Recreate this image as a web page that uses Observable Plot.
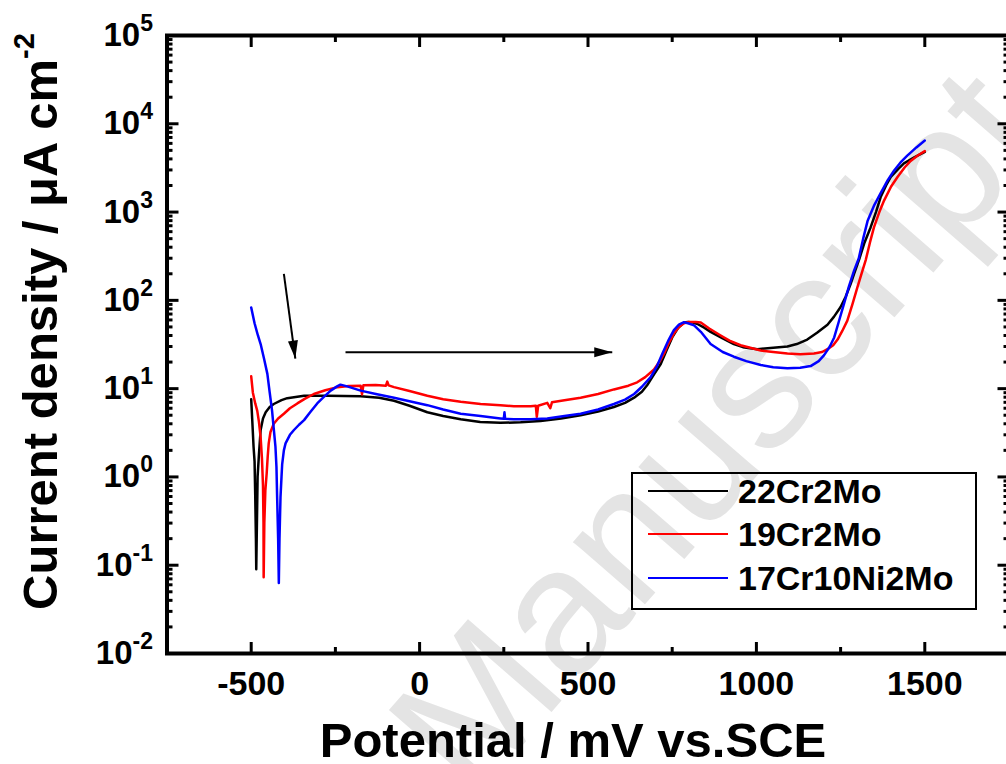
<!DOCTYPE html>
<html>
<head>
<meta charset="utf-8">
<script src="https://cdn.jsdelivr.net/npm/d3@7"></script>
<script src="https://cdn.jsdelivr.net/npm/@observablehq/plot@0.6"></script>
<style>
  html, body { margin: 0; padding: 0; background: #fff; }
  #wrap { position: relative; width: 1006px; height: 764px; overflow: hidden; }
  .legend { position: absolute; box-sizing: border-box; border: 2px solid #000; background: transparent;
            font-family: "Liberation Sans", Arial, sans-serif; font-weight: bold; font-size: 34px; color: #000; }
  .legend .row { position: absolute; left: 0; right: 0; height: 0; }
  .legend .swatch { position: absolute; height: 2.5px; margin-top: -1.25px; }
  .legend .lab { position: absolute; top: 0; line-height: 1; transform: translateY(-0.5em); white-space: nowrap; }
</style>
</head>
<body>
<div id="wrap"></div>
<script>
// ---------------- data ----------------
const seriesNames = ["22Cr2Mo", "19Cr2Mo", "17Cr10Ni2Mo"];
const seriesColors = ["#000000", "#ff0000", "#0000ff"];

// [potential mV vs SCE, current density µA cm^-2]
const curve22Cr2Mo = [
  [-500,7.6],[-497,4.5],[-493,2.2],[-490,1.5],[-488,0.6],[-486,0.2],[-485,0.09],[-483,0.3],[-481,1.0],
  [-477,1.8],[-472,3.4],[-465,4.6],[-457,5.4],[-445,6.2],[-433,6.7],[-410,7.4],[-393,7.8],[-343,8.3],
  [-274,8.3],[-175,8.2],[-120,7.9],[-76,7.3],[-30,6.4],[23,5.4],[70,4.9],[122,4.5],[180,4.2],[240,4.1],
  [300,4.15],[359,4.3],[420,4.6],[478,5.0],[530,5.5],[577,6.2],[610,6.9],[637,7.9],[660,9.2],[676,11],
  [696,14.5],[716,19],[733,27],[750,38],[768,49],[785,56],[797,57],[812,56],[825,54],[845,49],[864,44],
  [900,37],[933,32],[960,29.5],[1003,28],[1050,29],[1092,30],[1120,32],[1151,36],[1180,43],[1211,53],
  [1230,65],[1250,84],[1265,110],[1280,154],[1290,200],[1305,290],[1320,440],[1339,670],[1355,1000],
  [1369,1480],[1385,2000],[1399,2500],[1420,3050],[1438,3560],[1470,4200],[1500,4800]
];
const curve19Cr2Mo = [
  [-500,13.8],[-495,9],[-488,6.8],[-482,5.6],[-477,4.2],[-472,2.8],[-468,1.6],[-465,0.8],[-463.5,0.3],
  [-463,0.073],[-461,0.3],[-458,0.7],[-454,1.1],[-451,1.7],[-448,2.4],[-443,3.2],[-433,4.0],[-420,4.6],
  [-403,5.2],[-385,6.0],[-363,6.8],[-340,7.7],[-314,8.7],[-280,9.6],[-244,10.4],[-210,10.7],[-175,10.8],
  [-171,8.6],[-167,10.9],[-130,11.0],[-100,10.8],[-96,12.0],[-92,10.9],[-76,10.4],[-30,9.4],[23,8.3],
  [70,7.6],[122,7.1],[181,6.7],[240,6.5],[280,6.3],[330,6.3],[345,6.4],[348,4.8],[352,6.4],[379,6.9],
  [388,6.0],[393,7.0],[430,7.4],[478,7.9],[530,8.7],[577,9.8],[620,10.8],[646,11.8],[670,13.5],[696,16.5],
  [715,21],[726,25],[740,33],[755,42],[770,50],[785,55],[800,57],[820,57],[835,56],[860,48],[894,40],
  [920,35],[953,31],[1013,27],[1050,26],[1092,25],[1130,24.5],[1171,25],[1195,26],[1211,28],[1228,31],
  [1241,36],[1255,45],[1270,59],[1285,90],[1300,141],[1312,200],[1325,290],[1337,450],[1349,670],
  [1365,1000],[1379,1350],[1400,1950],[1419,2500],[1440,3200],[1458,3800],[1480,4400],[1500,4900]
];
const curve17Cr10Ni2Mo = [
  [-500,83],[-490,55],[-480,40],[-472,32],[-462,22],[-452,14.7],[-445,9],[-438,5.6],[-433,3.5],
  [-428,2.2],[-425,1.3],[-423,0.59],[-420,0.2],[-418,0.063],[-416,0.2],[-413,0.59],[-410,1.0],[-408,1.4],
  [-403,2.0],[-398,2.4],[-385,3.0],[-373,3.4],[-358,3.9],[-343,4.4],[-325,5.4],[-304,6.8],[-285,8.0],
  [-264,9.5],[-245,10.6],[-235,11.1],[-215,10.6],[-175,9.5],[-130,8.7],[-76,7.9],[-30,7.2],[23,6.5],
  [70,5.8],[122,5.2],[181,4.9],[240,4.6],[250,4.55],[252,5.4],[254,4.55],[280,4.5],[330,4.5],[379,4.6],
  [430,4.9],[478,5.2],[530,5.8],[577,6.7],[610,7.5],[637,8.7],[660,10.5],[686,13.5],[705,18],[721,25],
  [740,36],[755,46],[770,53],[785,56.5],[797,55],[815,52],[835,44],[864,32],[900,26],[933,23],[970,20.5],
  [1013,18.5],[1050,17.5],[1092,17],[1130,17.2],[1161,18],[1185,20.5],[1201,24],[1218,30],[1231,38],
  [1245,58],[1260,91],[1275,145],[1290,217],[1304,300],[1317,500],[1330,790],[1350,1200],[1369,1640],
  [1390,2300],[1409,2960],[1428,3650],[1448,4360],[1475,5400],[1500,6460]
];
const curves = [curve22Cr2Mo, curve19Cr2Mo, curve17Cr10Ni2Mo];

// scan-direction arrows (data coordinates: mV, µA cm^-2)
const arrowsData = [
  {x1: -403, y1: 200, x2: -369, y2: 21.9},
  {x1: -220, y1: 25.8, x2: 572, y2: 25.8}
];

const xMajorTicks = [-500, 0, 500, 1000, 1500];
const xMinorTicks = [-250, 250, 750, 1250];
const yMajorTicks = [1e-2, 1e-1, 1e0, 1e1, 1e2, 1e3, 1e4, 1e5];
const yMinorTicks = [];
for (let e = -2; e < 5; e++) for (let k = 2; k <= 9; k++) yMinorTicks.push(k * Math.pow(10, e));

const xTitle = "Potential / mV vs.SCE";
const yTitle = "Current density / μA cm-2";
const watermark = "Manuscript";

// ---------------- layout ----------------
const W = 1006, H = 764;
const mTop = 35, mBottom = 111, mLeft = 166.5, mRight = -2.5;
const xScaleOpts = {domain: [-750, 1750], range: [mLeft, W - mRight]};
const yScaleOpts = {type: "log", domain: [1e-2, 1e5], range: [H - mBottom, mTop]};

const rows = [];
curves.forEach((c, i) => c.forEach(([E, I]) => rows.push({E, I, series: seriesNames[i]})));

// arrow head angle from screen geometry
const sx = Plot.scale({x: xScaleOpts});
const sy = Plot.scale({y: yScaleOpts});
arrowsData.forEach(a => {
  const dx = sx.apply(a.x2) - sx.apply(a.x1);
  const dy = sy.apply(a.y2) - sy.apply(a.y1);
  a.angle = Math.atan2(dx, -dy) * 180 / Math.PI;
});
const arrowHead = {
  draw(ctx) { ctx.moveTo(0, 0); ctx.lineTo(-5, 18); ctx.lineTo(5, 18); ctx.closePath(); }
};

const tickLine = {strokeWidth: 3, fill: "none", label: null};

const chart = Plot.plot({
  width: W, height: H,
  marginTop: mTop, marginBottom: mBottom, marginLeft: mLeft, marginRight: mRight,
  x: {...xScaleOpts, axis: null},
  y: {...yScaleOpts, axis: null},
  color: {domain: seriesNames, range: seriesColors},
  style: {fontFamily: "'Liberation Sans', Arial, sans-serif", background: "#fff", color: "#000"},
  marks: [
    Plot.text([watermark], {frameAnchor: "middle", textAnchor: "middle", lineAnchor: "middle",
      dx: 130, dy: 88, rotate: -49, fontSize: 180, fill: "#e4e4e4", text: d => d}),
    Plot.line(rows, {x: "E", y: "I", z: "series", stroke: "series", strokeWidth: 2.5}),
    Plot.link(arrowsData, {x1: "x1", y1: "y1", x2: "x2", y2: "y2", stroke: "#000", strokeWidth: 2}),
    Plot.dot(arrowsData, {x: "x2", y: "y2", symbol: arrowHead, rotate: "angle", fill: "#000", stroke: "none"}),
    Plot.frame({stroke: "#000", strokeWidth: 4}),
    // inward ticks
    Plot.axisX(xMajorTicks, {anchor: "bottom", tickSize: -11, ...tickLine}),
    Plot.axisX(xMinorTicks, {anchor: "bottom", tickSize: -6, ...tickLine}),
    Plot.axisX(xMajorTicks, {anchor: "top", tickSize: -11, ...tickLine}),
    Plot.axisX(xMinorTicks, {anchor: "top", tickSize: -6, ...tickLine}),
    Plot.axisY(yMajorTicks, {anchor: "left", tickSize: -12, ...tickLine}),
    Plot.axisY(yMinorTicks, {anchor: "left", tickSize: -6, ...tickLine}),
    Plot.axisY(yMajorTicks, {anchor: "right", tickSize: -12, ...tickLine}),
    Plot.axisY(yMinorTicks, {anchor: "right", tickSize: -6, ...tickLine}),
    // tick labels
    Plot.axisX(xMajorTicks, {anchor: "bottom", stroke: "none", tickSize: 0, tickPadding: 17, label: null,
      fontSize: 34, fontWeight: "bold", tickFormat: d => String(d)}),
    Plot.axisY(yMajorTicks, {anchor: "left", stroke: "none", tickSize: 0, tickPadding: 14, label: null,
      fontSize: 33, fontWeight: "bold", tickFormat: d => "10^" + Math.round(Math.log10(d))}),
    // axis titles
    Plot.text([xTitle], {frameAnchor: "bottom", textAnchor: "middle", lineAnchor: "middle",
      dx: -15, dy: 88, fontSize: 49, fontWeight: "bold", text: d => d}),
    Plot.text([yTitle], {frameAnchor: "left", textAnchor: "middle", lineAnchor: "middle", rotate: -90,
      dx: -126, dy: -23, fontSize: 49, fontWeight: "bold", text: d => d})
  ]
});

// superscripts
const svg = d3.select(chart.tagName.toLowerCase() === "svg" ? chart : chart.querySelector("svg"));
svg.selectAll("text").each(function() {
  const t = d3.select(this);
  const s = this.textContent;
  const m = /^10\^(-?\d+)$/.exec(s);
  if (m) {
    t.text("10");
    t.append("tspan").attr("font-size", 23).attr("dy", -15).text(m[1]);
  } else if (s === yTitle) {
    t.text("Current density / μA cm");
    t.append("tspan").attr("font-size", 29).attr("dy", -23).text("-2");
  }
});

const wrap = document.getElementById("wrap");
wrap.appendChild(chart);

// legend inside the plot area
const leg = document.createElement("div");
leg.className = "legend";
Object.assign(leg.style, {left: "631px", top: "472px", width: "346px", height: "138px"});
const rowTops = [19, 62, 106];
seriesNames.forEach((n, i) => {
  const r = document.createElement("div");
  r.className = "row";
  r.style.top = (rowTops[i] - 2) + "px";
  const sw = document.createElement("div");
  sw.className = "swatch";
  Object.assign(sw.style, {left: "15px", width: "80px", background: seriesColors[i]});
  const lb = document.createElement("div");
  lb.className = "lab";
  lb.style.left = "105px";
  lb.textContent = n;
  r.appendChild(sw); r.appendChild(lb);
  leg.appendChild(r);
});
wrap.appendChild(leg);
</script>
</body>
</html>
